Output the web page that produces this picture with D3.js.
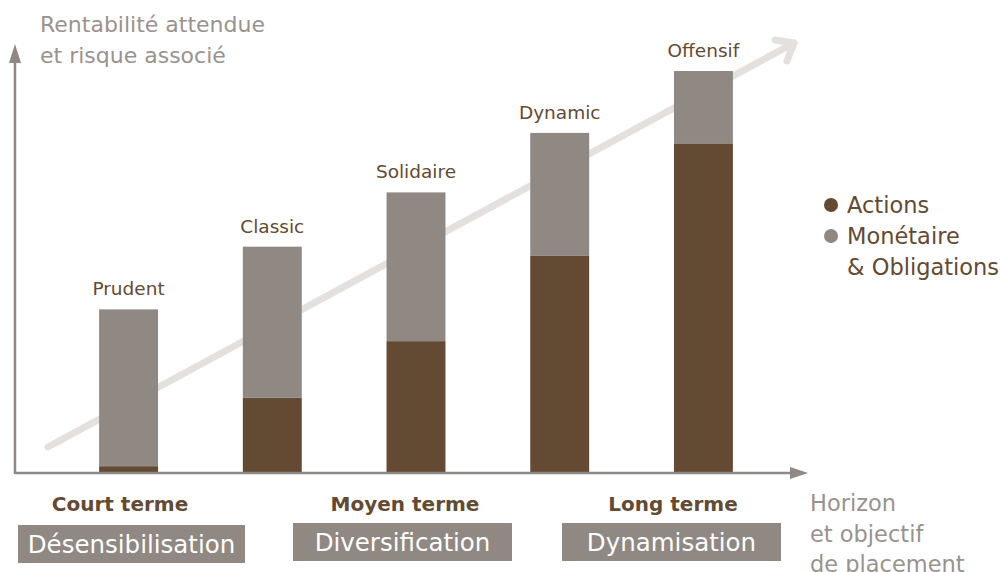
<!DOCTYPE html>
<meta charset="utf-8">
<style>
body{margin:0;background:#fff;}
text{font-family:"DejaVu Sans",sans-serif;}
</style>
<body>
<svg id="chart" width="1000" height="572"></svg>
<script src="https://cdnjs.cloudflare.com/ajax/libs/d3/7.8.5/d3.min.js"></script>
<script>

var profiles = ["Prudent","Classic","Solidaire","Dynamic","Offensif"];
var actions = [1.7, 18.7, 32.8, 54, 82];
var monetaire = [39, 37.6, 37, 30.6, 18];
var horizons = ["Court terme","Moyen terme","Long terme"];
var approaches = ["Désensibilisation","Diversification","Dynamisation"];
var legendLabels = [["Actions"],["Monétaire","& Obligations"]];

var brown = "#634a32", grey = "#8f8883", axisGrey = "#8f8883", light = "#e4e0dd";

var svg = d3.select("#chart");
var base = 473;

var x = d3.scaleBand().domain(profiles).range([56, 776]).paddingInner(0.59).paddingOuter(0.3);
var y = d3.scaleLinear().domain([0, 100]).range([base, 71]);

var rows = profiles.map((p,i)=>({profile:p, actions:actions[i], monetaire:monetaire[i]}));
var stack = d3.stack().keys(["actions","monetaire"])(rows);
var colors = {actions:brown, monetaire:grey};

// diagonal trend arrow (behind bars)
var trend = svg.append("g")
  .attr("stroke", light).attr("stroke-width", 7).attr("stroke-linecap","round")
  .attr("stroke-linejoin","round").attr("fill","none");
trend.append("line").attr("x1",48).attr("y1",447).attr("x2",794).attr("y2",43);
trend.append("polyline").attr("points","775,40 794,43 787,61");

// bars
svg.append("g").selectAll("g").data(stack).join("g")
  .attr("fill", d=>colors[d.key])
  .selectAll("rect").data(d=>d).join("rect")
  .attr("x", d=>x(d.data.profile))
  .attr("width", x.bandwidth())
  .attr("y", d=>y(d[1]))
  .attr("height", d=>y(d[0])-y(d[1]));

// bar labels
svg.append("g").selectAll("text").data(rows).join("text")
  .attr("x", d=>x(d.profile)+x.bandwidth()/2)
  .attr("y", d=>y(d.actions+d.monetaire)-14)
  .attr("text-anchor","middle")
  .attr("font-size",18.5)
  .attr("fill",brown)
  .text(d=>d.profile);

// axes with arrows
svg.append("line").attr("x1",15).attr("y1",base).attr("x2",795).attr("y2",base)
  .attr("stroke",axisGrey).attr("stroke-width",2.5);
svg.append("path").attr("d","M808,"+base+"L790,"+(base-6)+"L790,"+(base+6)+"Z").attr("fill",axisGrey);
svg.append("line").attr("x1",15).attr("y1",base+1).attr("x2",15).attr("y2",58)
  .attr("stroke",axisGrey).attr("stroke-width",2.5);
svg.append("path").attr("d","M15,44L9,63L21,63Z").attr("fill",axisGrey);

// axis titles
var yt = svg.append("text").attr("x",40).attr("y",32).attr("font-size",22).attr("fill","#9a928d");
yt.append("tspan").attr("x",40).text("Rentabilité attendue");
yt.append("tspan").attr("x",40).attr("dy",31).text("et risque associé");

var xt = svg.append("text").attr("x",810).attr("y",511).attr("font-size",22.5).attr("fill","#9a928d");
["Horizon","et objectif","de placement"].forEach((t,i)=>
  xt.append("tspan").attr("x",810).attr("dy",i?30.5:0).text(t));

// legend
var lg = svg.append("g").selectAll("g").data(legendLabels).join("g")
  .attr("transform",(d,i)=>"translate(831,"+(205+i*31)+")");
lg.append("circle").attr("r",7).attr("fill",(d,i)=>i?grey:brown);
lg.each(function(d){
  var t = d3.select(this).append("text").attr("x",16).attr("y",8).attr("font-size",22.5).attr("fill",brown);
  d.forEach((s,j)=>t.append("tspan").attr("x",16).attr("dy",j?30.5:0).text(s));
});

// horizons & approaches
var hcx = [120, 405, 673];
var boxes = [[18,245,525],[293,512,523],[562,781,523]];
svg.append("g").selectAll("text").data(horizons).join("text")
  .attr("x",(d,i)=>hcx[i])
  .attr("y",511).attr("text-anchor","middle")
  .attr("font-size",20).attr("font-weight","bold").attr("fill",brown)
  .text(d=>d);

var ab = svg.append("g").selectAll("g").data(approaches).join("g");
ab.append("rect")
  .attr("x",(d,i)=>boxes[i][0]).attr("y",(d,i)=>boxes[i][2])
  .attr("width",(d,i)=>boxes[i][1]-boxes[i][0]).attr("height",38)
  .attr("fill",grey);
ab.append("text")
  .attr("x",(d,i)=>(boxes[i][0]+boxes[i][1])/2).attr("y",(d,i)=>boxes[i][2]+28)
  .attr("text-anchor","middle").attr("font-size",24.5).attr("fill","#fff")
  .text(d=>d);
</script>
</body>
